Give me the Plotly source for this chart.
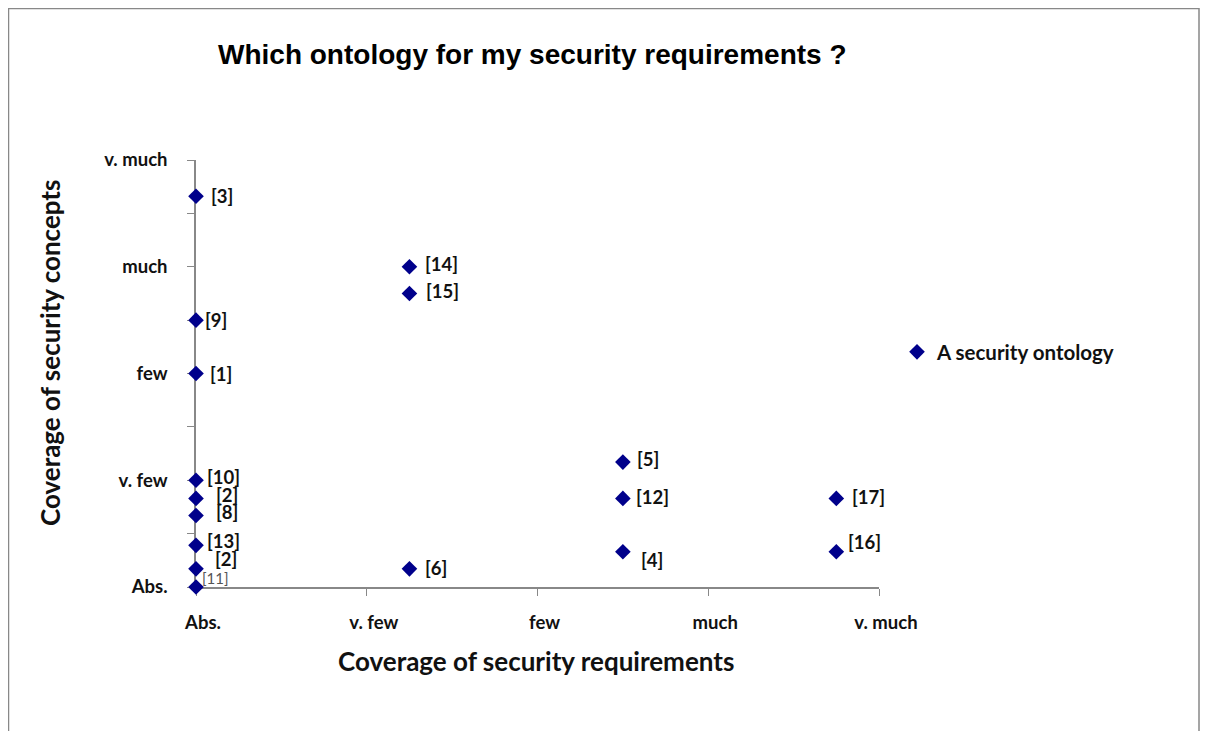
import plotly.graph_objects as go

# Data
labels = ["[3]", "[9]", "[1]", "[10]", "[2]", "[8]", "[13]", "[2]", "[11]",
          "[14]", "[15]", "[6]", "[5]", "[12]", "[4]", "[17]", "[16]"]
req_cov = [0, 0, 0, 0, 0, 0, 0, 0, 0,
           1.25, 1.25, 1.25, 2.5, 2.5, 2.5, 3.75, 3.75]
con_cov = [3.66, 2.5, 2.0, 1.0, 0.83, 0.67, 0.39, 0.17, 0.0,
           3.0, 2.75, 0.17, 1.17, 0.83, 0.33, 0.83, 0.33]

x_tickvals = [0, 1, 2, 3, 4]
x_ticktext = ["Abs.", "v. few", "few", "much", "v. much"]
y_tickvals = [0, 0.5, 1, 1.5, 2, 2.5, 3, 3.5, 4]
y_ticktext = ["Abs.", "", "v. few", "", "few", "", "much", "", "v. much"]

# label offsets (style): (xshift, yshift) in px
label_offsets = [(14, 0), (8, 0), (13, 0), (10, 3), (19, 3), (19, 3), (10, 4), (18, 10), (5, 9),
                 (15, 3), (16, 2), (15, 1), (13, 3), (12, 1), (17, -8), (15, 1), (11, 10)]

FONT = "Lato, 'Open Sans', sans-serif"
NAVY = "#00008B"

# geometry of the page (figure px)
L, T, PW, PH = 188, 152, 683, 427
W, H = 1210, 731


def px(xp):
    return (xp - L) / PW


def py(yp):
    return (T + PH - yp) / PH


fig = go.Figure()
fig.add_trace(go.Scatter(
    x=req_cov, y=con_cov, mode="markers", name="<b>A security ontology</b>",
    marker=dict(symbol="diamond", size=12, color=NAVY),
    cliponaxis=False,
))

for i, (lab, xv, yv) in enumerate(zip(labels, req_cov, con_cov)):
    dx, dy = label_offsets[i]
    small = lab == "[11]"
    fig.add_annotation(
        x=xv, y=yv, text=lab if small else "<b>" + lab + "</b>",
        showarrow=False, xanchor="left", yanchor="middle",
        xshift=dx, yshift=dy, borderpad=0,
        font=dict(family=FONT, size=15 if small else 18.5, color="#555555" if small else "#111111"),
    )

# axis titles
fig.add_annotation(x=px(528), y=py(653), xref="paper", yref="paper",
                   text="<b>Coverage of security requirements</b>", showarrow=False,
                   xanchor="center", yanchor="middle",
                   font=dict(family=FONT, size=26, color="#111111"))
fig.add_annotation(x=px(42), y=py(345), xref="paper", yref="paper",
                   text="<b>Coverage of security concepts</b>", showarrow=False,
                   textangle=-90, xanchor="center", yanchor="middle",
                   font=dict(family=FONT, size=26, color="#111111"))

# title
fig.add_annotation(x=px(524), y=py(47), xref="paper", yref="paper",
                   text="<b>Which ontology for my security requirements ?</b>", showarrow=False,
                   xanchor="center", yanchor="middle",
                   font=dict(family="'Liberation Sans', Arial, sans-serif", size=28, color="#000000"))

# outer chart border
fig.add_shape(type="rect", xref="paper", yref="paper",
              x0=px(0.5), x1=px(1191), y0=py(760), y1=py(0.5),
              line=dict(color="#888888", width=1.5), layer="below")

fig.update_layout(
    width=W, height=H,
    margin=dict(l=L, r=W - L - PW, t=T, b=H - T - PH),
    paper_bgcolor="white", plot_bgcolor="white",
    showlegend=True,
    legend=dict(x=px(889), y=py(344), xanchor="left", yanchor="middle",
                font=dict(family=FONT, size=20.5, color="#111111"),
                itemsizing="constant", bgcolor="rgba(0,0,0,0)"),
    font=dict(family=FONT, color="#111111"),
)

fig.update_xaxes(range=[0, 4], tickvals=x_tickvals, ticktext=["<b>%s</b>" % t for t in x_ticktext],
                 showgrid=False, zeroline=False, showline=True, linecolor="#888888", linewidth=1.5,
                 ticks="outside", ticklen=7, tickcolor="#888888", ticklabelstandoff=11,
                 ticklabelshift=7, layer="below traces",
                 tickfont=dict(family=FONT, size=18.5, color="#111111"))
fig.update_yaxes(range=[0, 4], tickvals=y_tickvals, ticktext=["<b>%s</b>" % t if t else "" for t in y_ticktext],
                 showgrid=False, zeroline=False, showline=True, linecolor="#888888", linewidth=1.5,
                 ticks="outside", ticklen=7, tickcolor="#888888", ticklabelstandoff=16,
                 layer="below traces",
                 tickfont=dict(family=FONT, size=18.5, color="#111111"))

fig.write_html("out.html")
